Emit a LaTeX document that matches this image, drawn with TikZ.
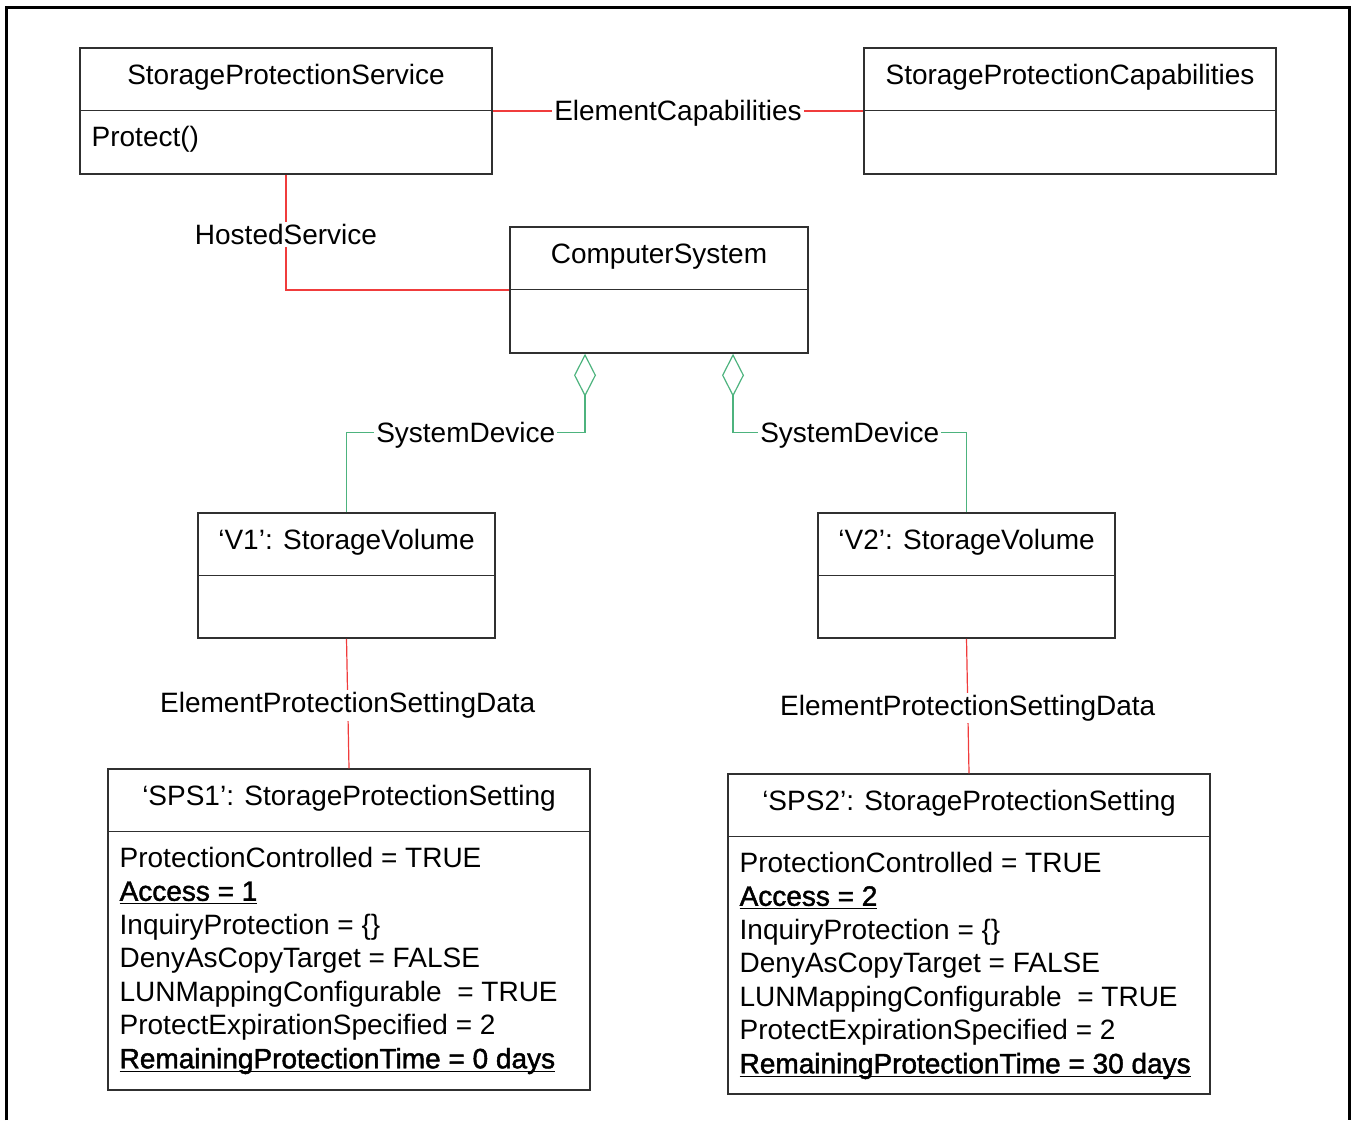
\documentclass[tikz,border=0pt]{standalone}
\usepackage{fontspec}
\setmainfont{Liberation Sans}
\newfontfamily\heavyfont[FakeBold=1.6]{Liberation Sans}
\usetikzlibrary{arrows.meta}
\definecolor{assocRed}{HTML}{F03C3C}
\definecolor{aggrGreen}{HTML}{4DB37E}
\definecolor{boxGray}{HTML}{303030}
\newcommand{\keyattr}[1]{\underline{\smash{\heavyfont #1}}}

\begin{document}
\begin{tikzpicture}[
    x=0.5pt, y=-0.5pt,
    every node/.style={font=\fontsize{14pt}{16.75pt}\selectfont},
    classbox/.style={draw=boxGray, line width=0.75pt, inner sep=0pt},
    boxtitle/.style={anchor=base, inner sep=0pt},
    attrs/.style={anchor=base west, inner sep=0pt},
    assoc/.style={draw=assocRed, line width=0.6pt},
    aggr/.style={draw=aggrGreen, line width=0.6pt, {Diamond[open, length=21.5pt, width=11pt]}-},
    lbl/.style={fill=white, inner sep=1pt, yshift=-1pt}
]
    \useasboundingbox (0,0) rectangle (1352,1120);
    \draw[line width=1.5pt] (6,1120) -- (6,7) -- (1349,7) -- (1349,1120);

    % Classes
    \node[classbox, minimum width=206pt, minimum height=63pt] (svc) at (286,111) {};
    \node[classbox, minimum width=206pt, minimum height=63pt] (cap) at (1070,111) {};
    \node[classbox, minimum width=149pt, minimum height=63pt] (cs) at (659,290) {};
    \node[classbox, minimum width=148.5pt, minimum height=62.5pt] (v1) at (346.5,575.5) {};
    \node[classbox, minimum width=148.5pt, minimum height=62.5pt] (v2) at (966.5,575.5) {};
    \node[classbox, minimum width=241pt, minimum height=160.5pt] (sps1) at (349,929.5) {};
    \node[classbox, minimum width=241pt, minimum height=160pt] (sps2) at (969,934) {};

    \foreach \b in {svc,cap,cs,v1,v2,sps1,sps2}
        \draw[boxGray, line width=0.75pt] ([yshift=-31.5pt]\b.north west) -- ([yshift=-31.5pt]\b.north east);

    \node[boxtitle] (svcT) at ([yshift=-18.5pt]svc.north) {StorageProtectionService};
    \node[boxtitle] (capT) at ([yshift=-18.5pt]cap.north) {StorageProtectionCapabilities};
    \node[boxtitle] (csT) at ([yshift=-18.5pt]cs.north) {ComputerSystem};
    \node[boxtitle] (v1T) at ([yshift=-18.5pt]v1.north) {‘V1’: StorageVolume};
    \node[boxtitle] (v2T) at ([yshift=-18.5pt]v2.north) {‘V2’: StorageVolume};
    \node[boxtitle] (sps1T) at ([yshift=-18.5pt]sps1.north) {‘SPS1’: StorageProtectionSetting};
    \node[boxtitle] (sps2T) at ([yshift=-18.5pt]sps2.north) {‘SPS2’: StorageProtectionSetting};

    \node[attrs] (svcA) at ([xshift=6pt, yshift=-49.5pt]svc.north west) {Protect()};
    \node[attrs] (sps1A) at ([xshift=6pt, yshift=-49.5pt]sps1.north west) {\begin{tabular}[t]{@{}l@{}}
        ProtectionControlled = TRUE\\
        \keyattr{Access = 1}\\
        InquiryProtection = \{\}\\
        DenyAsCopyTarget = FALSE\\
        LUNMappingConfigurable\ \ = TRUE\\
        ProtectExpirationSpecified = 2\\
        \keyattr{RemainingProtectionTime = 0 days}
    \end{tabular}};
    \node[attrs] (sps2A) at ([xshift=6pt, yshift=-49.5pt]sps2.north west) {\begin{tabular}[t]{@{}l@{}}
        ProtectionControlled = TRUE\\
        \keyattr{Access = 2}\\
        InquiryProtection = \{\}\\
        DenyAsCopyTarget = FALSE\\
        LUNMappingConfigurable\ \ = TRUE\\
        ProtectExpirationSpecified = 2\\
        \keyattr{RemainingProtectionTime = 30 days}
    \end{tabular}};

    % Associations
    \draw[assoc] (svc) -- node[lbl] {ElementCapabilities} (cap);
    \draw[assoc] (svc.south) |- node[lbl, pos=0.25] {HostedService} (cs.west);
    \draw[assoc] (v1.south) -- node[lbl] {ElementProtectionSettingData} (sps1.north);
    \draw[assoc] (v2.south) -- node[lbl] {ElementProtectionSettingData} (sps2.north);

    % Aggregations
    \draw[aggr] ([xshift=-37pt]cs.south) -- ++(0,-39.5pt) -| node[lbl, pos=0.25] {SystemDevice} (v1.north);
    \draw[aggr] ([xshift=37pt]cs.south) -- ++(0,-39.5pt) -| node[lbl, pos=0.25] {SystemDevice} (v2.north);
\end{tikzpicture}
\end{document}
